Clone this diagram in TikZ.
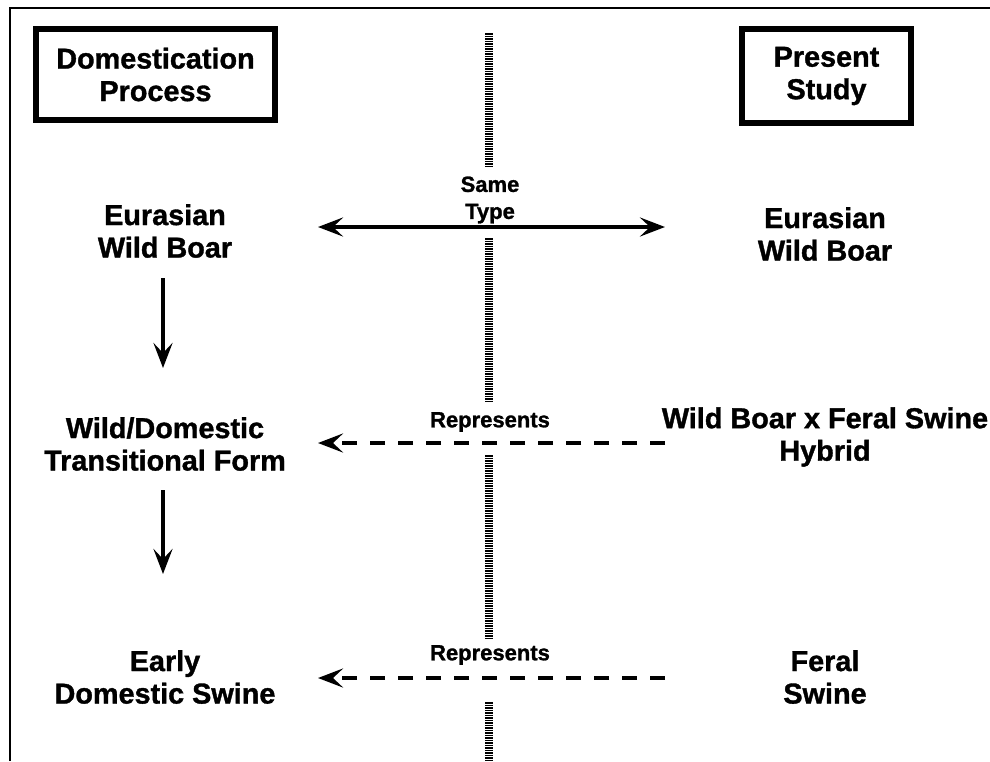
\documentclass[tikz,border=0pt]{standalone}
\usepackage{fontspec}
\setmainfont{Liberation Sans}
\newfontfamily\labfont[FakeBold=1.2]{Liberation Sans}
\usetikzlibrary{arrows.meta}
\tikzset{
  big/.style={align=center, inner sep=0pt, font=\labfont\bfseries\fontsize{28.8}{32.5}\selectfont},
  small/.style={align=center, inner sep=0pt, font=\labfont\bfseries\fontsize{22}{27}\selectfont},
  headbox/.style={big, draw, line width=6pt, inner sep=0pt},
  solidarrow/.style={line width=4pt, -{Stealth[length=25pt,width=19pt,inset=10pt]}},
  dasharrow/.style={line width=4.2pt, dash pattern=on 15pt off 13pt, -{Stealth[length=25pt,width=19pt,inset=10pt]}},
  hatch/.style={line width=8pt, dash pattern=on 1.5pt off 1pt},
  frameline/.style={line width=1.8pt}
}
\begin{document}
\begin{tikzpicture}[x=1pt,y=-1pt]
\useasboundingbox (0,0) rectangle (990,761);
% frame (top and left)
\coordinate (fTL) at (10,8);
\coordinate (fTR) at (990,8);
\coordinate (fBL) at (10,761);
\draw[frameline] (fBL) -- (fTL) -- (fTR);
% central hatched divider
\coordinate (h1a) at (489,33);  \coordinate (h1b) at (489,168);
\coordinate (h2a) at (489,238); \coordinate (h2b) at (489,403);
\coordinate (h3a) at (489,455); \coordinate (h3b) at (489,640);
\coordinate (h4a) at (489,702); \coordinate (h4b) at (489,761);
\draw[hatch] (h1a) -- (h1b);
\draw[hatch] (h2a) -- (h2b);
\draw[hatch] (h3a) -- (h3b);
\draw[hatch] (h4a) -- (h4b);
% header boxes
\node[headbox, minimum width=239pt, minimum height=91pt] (dom) at (155.5,74.5) {Domestication\\Process};
\node[headbox, minimum width=169pt, minimum height=94pt] (pres) at (826.5,76) {Present\\Study};
% left column
\node[big] (ewbL) at (165,231) {Eurasian\\Wild Boar};
\node[big] (wdt) at (165,444) {Wild/Domestic\\Transitional Form};
\node[big] (eds) at (165,677) {Early\\Domestic Swine};
% right column
\node[big] (ewbR) at (825,234) {Eurasian\\Wild Boar};
\node[big] (hyb) at (825,437) {Wild Boar x Feral Swine\\Hybrid};
\node[big] (fer) at (825,677) {Feral\\Swine};
% middle labels
\node[small] (same) at (490,200) {Same\\Type};
\node[small] (rep1) at (490,422) {Represents};
\node[small] (rep2) at (490,655) {Represents};
% arrow end coordinates
\coordinate (a1L) at (318,227); \coordinate (a1R) at (665,227);
\coordinate (a2L) at (318,443); \coordinate (a2R) at (665,443);
\coordinate (a3L) at (318,678); \coordinate (a3R) at (665,678);
\coordinate (d1a) at (163,278); \coordinate (d1b) at (163,368);
\coordinate (d2a) at (163,490); \coordinate (d2b) at (163,574);
% connectors
\draw[line width=4pt, {Stealth[length=25pt,width=19pt,inset=10pt]}-{Stealth[length=25pt,width=19pt,inset=10pt]}] (a1L) -- (a1R);
\draw[dasharrow] (a2R) -- (a2L);
\draw[dasharrow] (a3R) -- (a3L);
\draw[solidarrow] (d1a) -- (d1b);
\draw[solidarrow] (d2a) -- (d2b);
\end{tikzpicture}
\end{document}
